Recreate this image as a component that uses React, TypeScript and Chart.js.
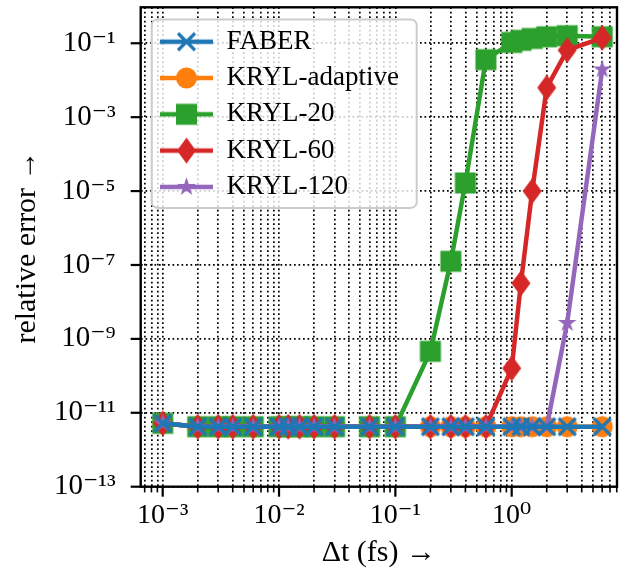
import React, { useEffect, useRef } from 'react';
import { Chart, registerables } from 'chart.js';

Chart.register(...registerables);

// ---------------- data ----------------
const dtValues = [0.001, 0.002, 0.003, 0.004, 0.006, 0.01, 0.012, 0.015, 0.02, 0.03, 0.06, 0.1, 0.2, 0.3, 0.4, 0.6, 1.0, 1.2, 1.5, 2.0, 3.0, 6.0];

const faberErr = [5.2e-12, 4.2e-12, 4.2e-12, 4.2e-12, 4.2e-12, 4.2e-12, 4.2e-12, 4.2e-12, 4.2e-12, 4.2e-12, 4.2e-12, 4.2e-12, 4.2e-12, 4.2e-12, 4.2e-12, 4.2e-12, 4.2e-12, 4.2e-12, 4.2e-12, 4.2e-12, 4.2e-12, 4.2e-12];
const krylAdaptiveErr = [5.2e-12, 4.2e-12, 4.2e-12, 4.2e-12, 4.2e-12, 4.2e-12, 4.2e-12, 4.2e-12, 4.2e-12, 4.2e-12, 4.2e-12, 4.2e-12, 4.2e-12, 4.2e-12, 4.2e-12, 4.2e-12, 4.2e-12, 4.2e-12, 4.2e-12, 4.2e-12, 4.2e-12, 4.2e-12];
const kryl20Err = [5.2e-12, 4.2e-12, 4.2e-12, 4.2e-12, 4.2e-12, 4.2e-12, 4.2e-12, 4.2e-12, 4.2e-12, 4.2e-12, 4.2e-12, 4.2e-12, 4.6e-10, 1.26e-7, 1.66e-5, 3.6e-2, 0.105, 0.12, 0.135, 0.15, 0.16, 0.15];
const kryl60Err = [5.2e-12, 4.2e-12, 4.2e-12, 4.2e-12, 4.2e-12, 4.2e-12, 4.2e-12, 4.2e-12, 4.2e-12, 4.2e-12, 4.2e-12, 4.2e-12, 4.2e-12, 4.2e-12, 4.2e-12, 4.2e-12, 1.6e-10, 3.2e-8, 1.0e-5, 6.3e-3, 0.065, 0.14];
const kryl120Err = [5.2e-12, 4.2e-12, 4.2e-12, 4.2e-12, 4.2e-12, 4.2e-12, 4.2e-12, 4.2e-12, 4.2e-12, 4.2e-12, 4.2e-12, 4.2e-12, 4.2e-12, 4.2e-12, 4.2e-12, 4.2e-12, 4.2e-12, 4.2e-12, 4.2e-12, 4.2e-12, 2.7e-9, 0.0195];

const seriesLabels = ['FABER', 'KRYL-adaptive', 'KRYL-20', 'KRYL-60', 'KRYL-120'];

const xMajorTicks = [1e-3, 1e-2, 1e-1, 1];
const xTickLabels = ['10⁻³', '10⁻²', '10⁻¹', '10⁰'];
const yTicks = [1e-13, 1e-11, 1e-9, 1e-7, 1e-5, 1e-3, 1e-1];
const yTickLabels = ['10⁻¹³', '10⁻¹¹', '10⁻⁹', '10⁻⁷', '10⁻⁵', '10⁻³', '10⁻¹'];

const xTitle = 'Δt (fs) →';
const yTitle = 'relative error →';

// ---------------- styling ----------------
const FONT = '"Liberation Serif", "DejaVu Serif", serif';
const COLORS = ['#1f77b4', '#ff7f0e', '#2ca02c', '#d62728', '#9467bd'];
const MARKERS = ['x', 'o', 's', 'd', '*'];
const ORDERS = [0, 4, 3, 2, 1];

const X_MIN = 6.47e-4;
const X_MAX = 8.04;
const Y_MIN = 1e-13;
const Y_MAX = 0.94;

const LEG = { x: 150.7, y: 18.9, w: 266, h: 189.5, pad: 9.3 };

const sameLog = (a: number, b: number) => Math.abs(Math.log10(a) - Math.log10(b)) < 1e-6;

function drawMarker(ctx: CanvasRenderingContext2D, kind: string, cx: number, cy: number, color: string) {
  ctx.fillStyle = color;
  ctx.strokeStyle = color;
  if (kind === 'x') {
    const s = 8.5;
    ctx.lineWidth = 3.2;
    ctx.lineCap = 'butt';
    ctx.beginPath();
    ctx.moveTo(cx - s, cy - s);
    ctx.lineTo(cx + s, cy + s);
    ctx.moveTo(cx + s, cy - s);
    ctx.lineTo(cx - s, cy + s);
    ctx.stroke();
  } else if (kind === 'o') {
    ctx.beginPath();
    ctx.arc(cx, cy, 10.5, 0, Math.PI * 2);
    ctx.fill();
  } else if (kind === 's') {
    ctx.fillRect(cx - 10.5, cy - 10.5, 21, 21);
  } else if (kind === 'd') {
    ctx.beginPath();
    ctx.moveTo(cx, cy - 13);
    ctx.lineTo(cx + 9.5, cy);
    ctx.lineTo(cx, cy + 13);
    ctx.lineTo(cx - 9.5, cy);
    ctx.closePath();
    ctx.fill();
  } else if (kind === '*') {
    const R = 9.8;
    const r = R * 0.382;
    ctx.beginPath();
    for (let i = 0; i < 10; i++) {
      const rad = i % 2 === 0 ? R : r;
      const ang = -Math.PI / 2 + (i * Math.PI) / 5;
      const px = cx + rad * Math.cos(ang);
      const py = cy + rad * Math.sin(ang);
      if (i === 0) ctx.moveTo(px, py);
      else ctx.lineTo(px, py);
    }
    ctx.closePath();
    ctx.fill();
  }
}

function makePointImage(kind: string, color: string) {
  const c = document.createElement('canvas');
  c.width = 30;
  c.height = 30;
  const ctx = c.getContext('2d')!;
  drawMarker(ctx, kind, 15, 15, color);
  return c;
}

function makeLegendImage(kind: string, color: string) {
  const c = document.createElement('canvas');
  c.width = 53;
  c.height = 30;
  const ctx = c.getContext('2d')!;
  ctx.strokeStyle = color;
  ctx.lineWidth = 4.5;
  ctx.beginPath();
  ctx.moveTo(0, 15);
  ctx.lineTo(53, 15);
  ctx.stroke();
  drawMarker(ctx, kind, 26.5, 15, color);
  return c;
}

function roundRect(ctx: CanvasRenderingContext2D, x: number, y: number, w: number, h: number, r: number) {
  ctx.beginPath();
  ctx.moveTo(x + r, y);
  ctx.lineTo(x + w - r, y);
  ctx.arcTo(x + w, y, x + w, y + r, r);
  ctx.lineTo(x + w, y + h - r);
  ctx.arcTo(x + w, y + h, x + w - r, y + h, r);
  ctx.lineTo(x + r, y + h);
  ctx.arcTo(x, y + h, x, y + h - r, r);
  ctx.lineTo(x, y + r);
  ctx.arcTo(x, y, x + r, y, r);
  ctx.closePath();
}

const legendPlacer = {
  id: 'legendPlacer',
  afterUpdate(chart: any) {
    const lg = chart.legend;
    if (!lg) return;
    lg.left = LEG.x;
    lg.top = LEG.y;
    lg.width = LEG.w;
    lg.height = LEG.h + 40;
    lg.right = LEG.x + LEG.w;
    lg.bottom = LEG.y + LEG.h + 40;
    if (lg.adjustHitBoxes) lg.adjustHitBoxes();
    if (!lg._framed) {
      const orig = lg.draw.bind(lg);
      lg.draw = (...args: any[]) => {
        const ctx: CanvasRenderingContext2D = chart.ctx;
        ctx.save();
        roundRect(ctx, LEG.x + 1, LEG.y + 0.5, LEG.w - 1, LEG.h - 1, 6);
        ctx.fillStyle = 'rgba(255,255,255,0.8)';
        ctx.fill();
        ctx.lineWidth = 2;
        ctx.strokeStyle = '#cccccc';
        ctx.stroke();
        ctx.restore();
        orig(...args);
      };
      lg._framed = true;
    }
  },
};

const axesDecor = {
  id: 'axesDecor',
  afterDatasetsDraw(chart: any) {
    const { ctx, chartArea: a, scales } = chart;
    const xs = scales.x;
    const ys = scales.y;
    ctx.save();
    ctx.strokeStyle = '#000';
    ctx.setLineDash([]);
    xs.ticks.forEach((t: any) => {
      const px = xs.getPixelForValue(t.value);
      const major = xMajorTicks.some((m) => sameLog(m, t.value));
      ctx.lineWidth = major ? 2.2 : 1.6;
      ctx.beginPath();
      ctx.moveTo(px, a.bottom);
      ctx.lineTo(px, a.bottom + (major ? 10 : 5.7));
      ctx.stroke();
    });
    ys.ticks.forEach((t: any) => {
      const py = ys.getPixelForValue(t.value);
      ctx.lineWidth = 2.2;
      ctx.beginPath();
      ctx.moveTo(a.left - 10, py);
      ctx.lineTo(a.left, py);
      ctx.stroke();
    });
    ctx.lineWidth = 2.4;
    ctx.strokeRect(a.left, a.top, a.right - a.left, a.bottom - a.top);
    ctx.restore();
  },
};

const zeroPadding = (s: any) => {
  s.paddingTop = 0;
  s.paddingBottom = 0;
  s.paddingLeft = 0;
  s.paddingRight = 0;
};

export default function App() {
  const ref = useRef<HTMLCanvasElement>(null);

  useEffect(() => {
    const canvas = ref.current;
    if (!canvas) return;
    Chart.defaults.font.family = FONT;
    Chart.defaults.color = '#000';

    const seriesValues = [faberErr, krylAdaptiveErr, kryl20Err, kryl60Err, kryl120Err];
    const pointImgs = MARKERS.map((m, i) => makePointImage(m, COLORS[i]));
    const legendImgs = MARKERS.map((m, i) => makeLegendImage(m, COLORS[i]));

    const datasets = seriesLabels.map((label, i) => ({
      label,
      data: dtValues.map((x, j) => ({ x, y: seriesValues[i][j] })),
      borderColor: COLORS[i],
      backgroundColor: COLORS[i],
      borderWidth: 4.5,
      tension: 0,
      fill: false,
      pointStyle: pointImgs[i] as any,
      pointRadius: 10,
      pointHoverRadius: 10,
      order: ORDERS[i],
      clip: false as any,
    }));

    const chart = new Chart(canvas, {
      type: 'line',
      data: { datasets },
      plugins: [legendPlacer, axesDecor],
      options: {
        animation: false,
        responsive: false,
        devicePixelRatio: 1,
        events: [],
        layout: { autoPadding: false, padding: { left: 0, top: 7.3, right: 6, bottom: 0 } },
        plugins: {
          tooltip: { enabled: false },
          title: { display: false },
          legend: {
            display: true,
            position: 'chartArea' as any,
            fullSize: false,
            align: 'start',
            labels: {
              usePointStyle: true,
              pointStyleWidth: 53,
              padding: LEG.pad,
              color: '#000',
              font: { size: 27, family: FONT },
              generateLabels: (ch: any) =>
                ch.data.datasets.map((ds: any, i: number) => ({
                  text: ds.label,
                  pointStyle: legendImgs[i],
                  fillStyle: COLORS[i],
                  strokeStyle: COLORS[i],
                  lineWidth: 0,
                  hidden: false,
                  datasetIndex: i,
                  fontColor: '#000',
                })),
            },
          },
        },
        scales: {
          x: {
            type: 'logarithmic',
            position: 'bottom',
            min: X_MIN,
            max: X_MAX,
            bounds: 'data',
            afterFit: (s: any) => {
              s.height = 579 - 486.7;
              zeroPadding(s);
            },
            afterBuildTicks: (s: any) => {
              const ticks: any[] = [];
              for (let e = -4; e <= 1; e++) {
                for (let k = 1; k <= 9; k++) {
                  const v = k * Math.pow(10, e);
                  if (v >= X_MIN && v <= X_MAX) ticks.push({ value: v, major: k === 1 });
                }
              }
              s.ticks = ticks;
            },
            grid: {
              display: true,
              drawOnChartArea: true,
              drawTicks: false,
              color: '#000',
              lineWidth: 1.7,
            },
            border: { display: false, dash: [1.7, 2.8] },
            ticks: {
              autoSkip: false,
              maxRotation: 0,
              minRotation: 0,
              padding: 12,
              color: '#000',
              font: { size: 28, family: FONT },
              callback: (v: any) => {
                const idx = xMajorTicks.findIndex((m) => sameLog(m, Number(v)));
                return idx >= 0 ? xTickLabels[idx] : '';
              },
            },
            title: {
              display: true,
              text: xTitle,
              color: '#000',
              font: { size: 30, family: FONT },
              padding: { top: 0, bottom: 8 },
            },
          },
          y: {
            type: 'logarithmic',
            position: 'left',
            min: Y_MIN,
            max: Y_MAX,
            bounds: 'data',
            afterFit: (s: any) => {
              s.width = 140.7;
              zeroPadding(s);
            },
            afterBuildTicks: (s: any) => {
              s.ticks = yTicks.map((v) => ({ value: v, major: true }));
            },
            grid: {
              display: true,
              drawOnChartArea: true,
              drawTicks: false,
              color: '#000',
              lineWidth: 1.7,
            },
            border: { display: false, dash: [1.7, 2.8] },
            ticks: {
              autoSkip: false,
              padding: 25,
              color: '#000',
              font: { size: 29, family: FONT },
              callback: (v: any) => {
                const idx = yTicks.findIndex((m) => sameLog(m, Number(v)));
                return idx >= 0 ? yTickLabels[idx] : '';
              },
            },
            title: {
              display: true,
              text: yTitle,
              color: '#000',
              font: { size: 30, family: FONT },
              padding: { top: 9, bottom: 0 },
            },
          },
        },
      } as any,
    });

    return () => chart.destroy();
  }, []);

  return (
    <div style={{ position: 'absolute', left: 0, top: 0, width: 623, height: 579, background: '#fff' }}>
      <canvas ref={ref} width={623} height={579} style={{ display: 'block', width: 623, height: 579 }} />
    </div>
  );
}
